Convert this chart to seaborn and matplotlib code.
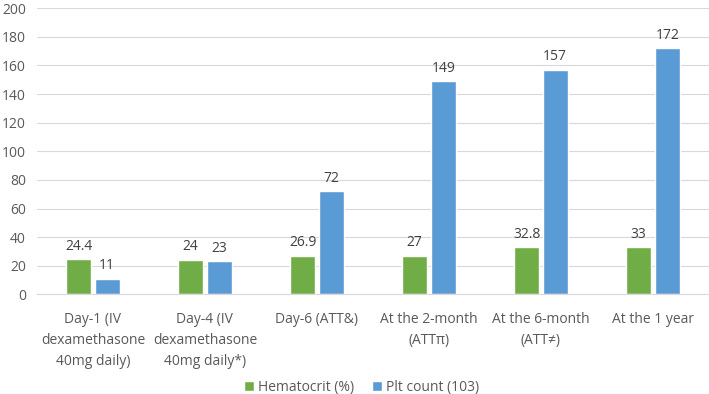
import pandas as pd
import seaborn as sns
import matplotlib.pyplot as plt

# valores
categorias = ['Day-1 (IV\ndexamethasone\n40mg daily)', 'Day-4 (IV\ndexamethasone\n40mg daily*)',
              'Day-6 (ATT&)', 'At the 2-month\n(ATTπ)', 'At the 6-month\n(ATT≠)', 'At the 1 year']
hematocrito = [24.4, 24, 26.9, 27, 32.8, 33]
plaquetas = [11, 23, 72, 149, 157, 172]
series = ['Hematocrit (%)', 'Plt count (103)']

df = pd.DataFrame({
    'cat': categorias * 2,
    'valor': hematocrito + plaquetas,
    'serie': [series[0]] * 6 + [series[1]] * 6,
})

sns.set_style('white')
plt.rcParams['font.family'] = ['Open Sans', 'DejaVu Sans']
cinza = '#595959'

fig = plt.figure(figsize=(7.09, 3.94), dpi=100)
ax = fig.add_axes([0.052, 0.253, 0.948, 0.726])
sns.barplot(data=df, x='cat', y='valor', hue='serie', palette=['#70AD47', '#5B9BD5'],
            saturation=1, width=0.51, gap=0.125, ax=ax, legend=True)

for cont in ax.containers:
    labels = [f'{v:g}' for v in cont.datavalues]
    ax.bar_label(cont, labels=labels, padding=4, fontsize=10, color='#404040')

ax.set_ylim(0, 200)
ax.set_yticks(range(0, 201, 20))
ax.set_xlim(-0.5, 5.5)
ax.yaxis.grid(True, color='#D9D9D9', linewidth=0.8)
ax.set_axisbelow(True)
for s in ['top', 'right', 'left']:
    ax.spines[s].set_visible(False)
ax.spines['bottom'].set_color('#D9D9D9')
ax.tick_params(axis='y', length=0, labelsize=10, labelcolor=cinza, pad=8)
ax.tick_params(axis='x', length=0, labelsize=10, labelcolor=cinza, pad=13)
for lbl in ax.get_xticklabels():
    lbl.set_linespacing(1.55)
ax.set_xlabel('')
ax.set_ylabel('')

ax.legend(loc='upper center', bbox_to_anchor=(0.483, -0.255), ncol=2, frameon=False,
          fontsize=10, labelcolor=cinza, handlelength=0.7, handleheight=0.7,
          columnspacing=1.3, handletextpad=0.3)

plt.savefig('out.png', dpi=100)
